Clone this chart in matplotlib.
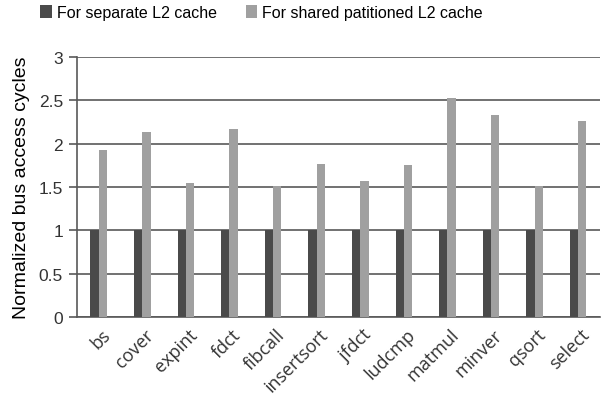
import numpy as np
import matplotlib
matplotlib.use("Agg")
import matplotlib.pyplot as plt

plt.rcParams["font.family"] = ["Liberation Sans", "DejaVu Sans"]

benchmarks = ["bs", "cover", "expint", "fdct", "fibcall", "insertsort",
              "jfdct", "ludcmp", "matmul", "minver", "qsort", "select"]
separate = [1, 1, 1, 1, 1, 1, 1, 1, 1, 1, 1, 1]
shared = [1.93, 2.13, 1.55, 2.17, 1.51, 1.77, 1.57, 1.75, 2.53, 2.33, 1.51, 2.26]

fig = plt.figure(figsize=(6.06, 4.06), dpi=100)
ax = fig.add_axes([0.127, 0.217, 0.863, 0.64])

x = np.arange(len(benchmarks))
w = 0.19
ax.bar(x - w / 2, separate, w, color="#4a4a4a", label="For separate L2 cache", zorder=3)
ax.bar(x + w / 2, shared, w, color="#a0a0a0", label="For shared patitioned L2 cache", zorder=3)

ax.set_xlim(-0.5, len(benchmarks) - 0.5)
ax.set_ylim(0, 3)
ax.set_yticks([0, 0.5, 1, 1.5, 2, 2.5, 3])
ax.set_yticklabels(["0", "0.5", "1", "1.5", "2", "2.5", "3"], fontsize=12.5, color="#333333")
ax.yaxis.grid(True, color="#595959", lw=1.2, zorder=0)
ax.tick_params(axis="y", length=6, width=1.2, color="#595959", pad=4)
ax.tick_params(axis="x", length=0, pad=6)
ax.set_xticks(x + 0.05)
ax.set_xticklabels(benchmarks, rotation=45, ha="right", rotation_mode="anchor",
                   fontsize=13, color="#333333", family=["Open Sans", "DejaVu Sans"])
for s in ["top", "right"]:
    ax.spines[s].set_visible(False)
ax.spines["left"].set_color("#595959")
ax.spines["bottom"].set_color("#595959")
ax.spines["left"].set_linewidth(1.2)
ax.spines["bottom"].set_linewidth(1.2)

ax.set_ylabel("Normalized bus access cycles", fontsize=14, labelpad=6)

fig.legend(loc="upper left", bbox_to_anchor=(0.066, 0.985), ncol=2, frameon=False,
           fontsize=11.5, handlelength=0.75, handleheight=0.85, handletextpad=0.3,
           columnspacing=1.8, borderpad=0, borderaxespad=0)

fig.savefig("out.png", dpi=100)
